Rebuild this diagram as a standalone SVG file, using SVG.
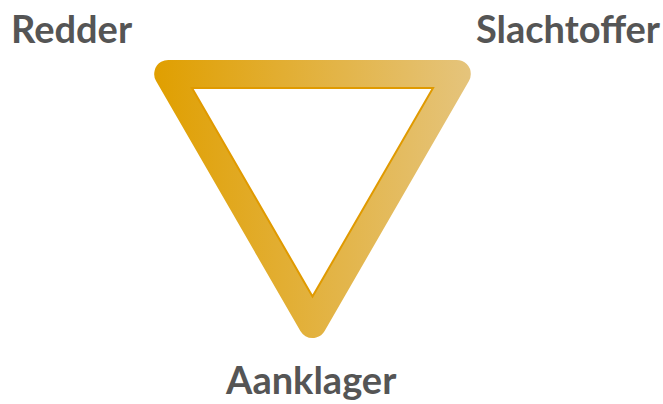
<svg xmlns="http://www.w3.org/2000/svg" width="663" height="404" viewBox="0 0 663 404">
<defs>
<linearGradient id="g" gradientUnits="userSpaceOnUse" x1="154" y1="0" x2="471" y2="0">
<stop offset="0" stop-color="#E09F00"/>
<stop offset="1" stop-color="#E5C47C"/>
</linearGradient>
<style>
.lbl{font-family:Lato,"Liberation Sans",sans-serif;font-weight:bold;font-size:38px;fill:#555555}
</style>
</defs>
<rect width="663" height="404" fill="#ffffff"/>
<g id="triangle">
<polygon points="168.2,74 456.8,74 312.5,324" fill="none" stroke="url(#g)" stroke-width="28" stroke-linejoin="round"/>
<polygon points="192,88 433,88 312.5,296.5" fill="#ffffff" stroke="#E09A00" stroke-width="2"/>
</g>
<g id="redder"><text class="lbl" x="11" y="43">Redder</text></g>
<g id="slachtoffer"><text class="lbl" x="476" y="43">Slachtoffer</text></g>
<g id="aanklager"><text class="lbl" x="226" y="394">Aanklager</text></g>
</svg>
